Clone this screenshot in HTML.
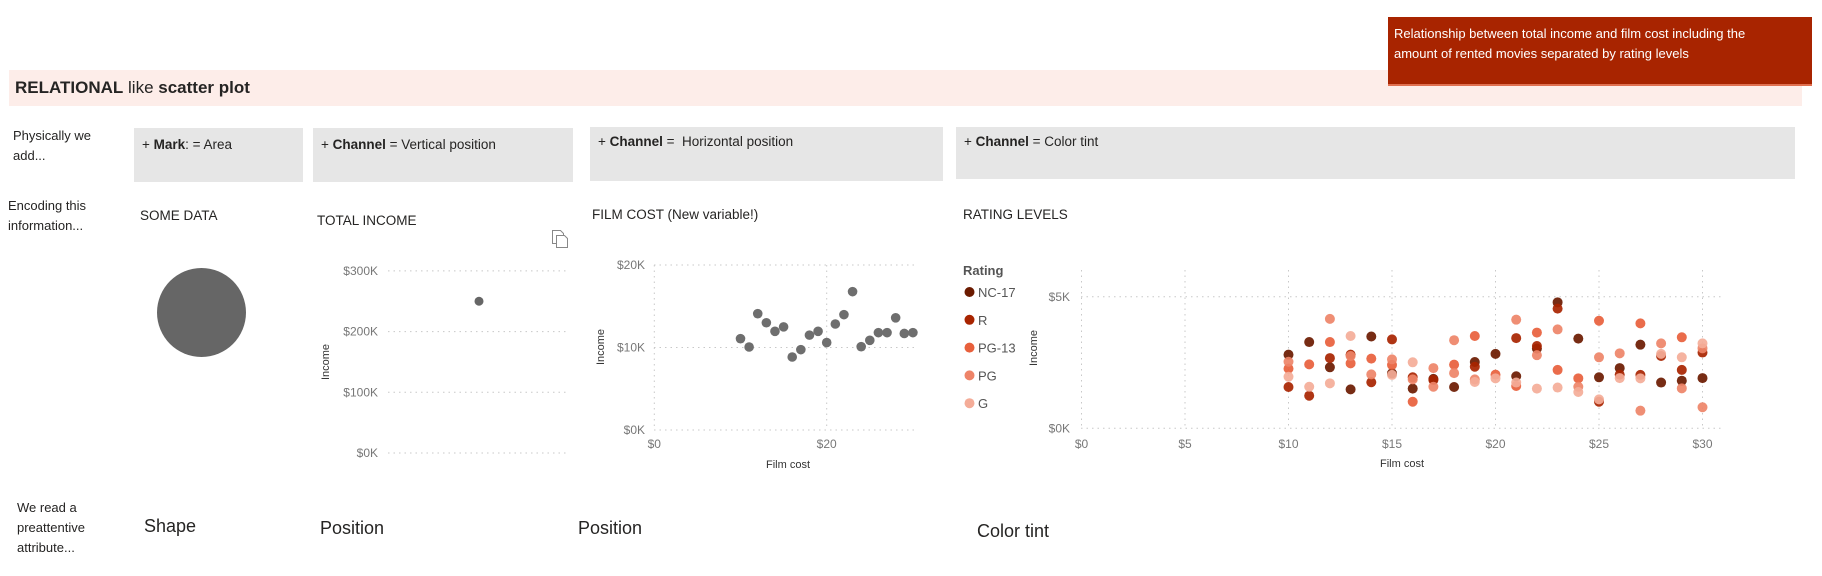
<!DOCTYPE html>
<html><head><meta charset="utf-8">
<style>
html,body{margin:0;padding:0;background:#fff;}
body{width:1822px;height:576px;position:relative;overflow:hidden;font-family:"Liberation Sans",sans-serif;color:#252423;}
.abs{position:absolute;}
.box{position:absolute;background:#e6e6e6;font-size:13.5px;color:#252423;box-sizing:border-box;padding:9px 0 0 8px;}
.rowlab{position:absolute;font-size:13px;line-height:20px;color:#252423;}
.title{position:absolute;font-size:13.5px;color:#252423;}
.big{position:absolute;font-size:18px;color:#252423;}
svg text{font-family:"Liberation Sans",sans-serif;}
</style></head><body>
<div class="abs" style="left:9px;top:70px;width:1793px;height:36px;background:#fdede9;"></div>
<div class="abs" style="left:1388px;top:17px;width:424px;height:69px;background:#a82400;color:#fff;font-size:13px;line-height:20px;padding:7px 50px 0 6px;box-sizing:border-box;border-bottom:2px solid #e07050;">Relationship between total income and film cost including the amount of rented movies separated by rating levels</div>
<div class="abs" style="left:15px;top:78px;font-size:17px;"><b>RELATIONAL</b> like <b>scatter plot</b></div>

<div class="rowlab" style="left:13px;top:126px;">Physically we<br>add...</div>
<div class="rowlab" style="left:8px;top:196px;">Encoding this<br>information...</div>
<div class="rowlab" style="left:17px;top:498px;">We read a<br>preattentive<br>attribute...</div>

<div class="box" style="left:134px;top:128px;width:169px;height:54px;">+ <b>Mark</b>: = Area</div>
<div class="box" style="left:313px;top:128px;width:260px;height:54px;">+ <b>Channel</b> = Vertical position</div>
<div class="box" style="left:590px;top:127px;width:353px;height:54px;padding-top:7px;">+ <b>Channel</b> =&nbsp; Horizontal position</div>
<div class="box" style="left:956px;top:127px;width:839px;height:52px;padding-top:7px;">+ <b>Channel</b> = Color tint</div>

<div class="title" style="left:140px;top:208px;">SOME DATA</div>
<div class="title" style="left:317px;top:213px;">TOTAL INCOME</div>
<div class="title" style="left:592px;top:207px;">FILM COST (New variable!)</div>
<div class="title" style="left:963px;top:207px;">RATING LEVELS</div>

<div class="big" style="left:144px;top:516px;">Shape</div>
<div class="big" style="left:320px;top:518px;">Position</div>
<div class="big" style="left:578px;top:518px;">Position</div>
<div class="big" style="left:977px;top:521px;">Color tint</div>

<svg id="charts" class="abs" style="left:0;top:0" width="1822" height="576">
  <circle cx="201.5" cy="312.5" r="44.5" fill="#666"/>
  <g fill="none" stroke="#888" stroke-width="1">
    <path d="M552.5,230.5 h8 l3,3 v10 h-11 z"/><path d="M556.5,235.5 h8 l3,3 v9 h-11 z" fill="#fff"/>
  </g>
</svg>
<script>
// Total income chart
const tiTicks=[0,100,200,300];
const tiTickLabels=["$0K","$100K","$200K","$300K"];
const tiValue=[250];
// Film cost chart
const fcCost=[10,11,12,13,14,15,16,17,18,19,20,21,22,23,24,25,26,27,28,29,30];
const fcIncome=[11.07,10.06,14.1,13.0,11.96,12.5,8.85,9.74,11.5,11.96,10.6,12.85,13.98,16.77,10.1,10.87,11.8,11.8,13.6,11.7,11.8];
const fcYTicks=[0,10,20];
const fcYLabels=["$0K","$10K","$20K"];
const fcXTicks=[0,20];
const fcXLabels=["$0","$20"];
// Rating chart
const ratingNames=["NC-17","R","PG-13","PG","G"];
const ratingColors=["#6b1a00","#a82400","#e8603c","#ee8468","#f4ac98"];
const nc17Cost=[10,11,12,13,14,15,16,17,18,19,20,21,22,23,24,25,26,27,28,29,30];
const nc17Income=[2.80,3.28,2.32,1.48,3.49,2.09,1.51,1.88,1.57,2.52,2.83,1.98,3.03,4.79,3.41,1.94,2.29,3.18,1.74,1.81,1.91];
const rCost=[10,11,12,13,14,15,16,17,19,21,22,23,25,26,27,28,29,30];
const rIncome=[1.57,1.24,2.67,2.80,1.75,3.38,1.94,1.84,2.34,3.43,3.13,4.55,1.01,2.04,2.03,2.75,2.22,2.88];
const pg13Cost=[10,11,12,13,14,15,16,18,19,20,21,22,23,24,25,27,29];
const pg13Income=[2.27,2.43,3.28,2.47,2.65,2.41,1.01,2.42,3.51,2.04,1.61,3.64,2.22,1.90,4.09,3.99,3.46];
const pgCost=[10,12,13,14,15,16,17,17,18,18,19,21,22,23,24,25,26,27,28,29,30,30];
const pgIncome=[2.53,4.16,2.75,2.05,2.62,1.86,2.29,1.58,3.35,2.10,1.86,4.13,2.78,3.76,1.58,2.70,2.85,0.67,3.23,1.52,3.04,0.80];
const gCost=[10,11,12,13,15,16,19,20,21,22,23,24,25,26,27,28,29,30];
const gIncome=[1.96,1.58,1.71,3.51,2.03,2.51,1.76,1.90,1.74,1.51,1.55,1.38,1.10,1.91,1.90,2.83,2.70,3.23];
const rtYTicks=[0,5];
const rtYLabels=["$0K","$5K"];
const rtXTicks=[0,5,10,15,20,25,30];
const rtXLabels=["$0","$5","$10","$15","$20","$25","$30"];

const svg=document.getElementById('charts');
const NS="http://www.w3.org/2000/svg";
function mk(tag,attrs,parent){const e=document.createElementNS(NS,tag);for(const k in attrs)e.setAttribute(k,attrs[k]);(parent||svg).appendChild(e);return e;}
function txt(x,y,s,anchor,size,fill,parent){const t=mk('text',{x:x,y:y,'text-anchor':anchor,'font-size':size,fill:fill},parent);t.textContent=s;return t;}
const grid={stroke:"#c8c8c8","stroke-width":1,"stroke-dasharray":"1.5,4"};

// Total income
(function(){
  const g=mk('g',{});
  
  
  const y=v=>453-(v/100)*60.7;
  const x0=388,x1=568;
  tiTicks.forEach((t,i)=>{
    const l=mk('line',Object.assign({x1:x0,x2:x1,y1:y(t),y2:y(t)},grid),g);
    
    
    const tl=txt(378,y(t)+4,tiTickLabels[i],'end',12,'#777',g);
    
    
  });
  const yl=txt(0,0,'Income','middle',11,'#333',g);
  yl.setAttribute('transform','translate(329,362) rotate(-90)');
  
  
  tiValue.forEach(v=>{
    const c=mk('circle',{cx:479,cy:y(v),r:4.5,fill:'#666'},g);
    
    
  });
})();

// Film cost
(function(){
  const g=mk('g',{});
  
  
  const x=v=>654.3+v*8.62, y=v=>430-v*8.25;
  fcYTicks.forEach((t,i)=>{
    const l=mk('line',Object.assign({x1:654,x2:917,y1:y(t),y2:y(t)},grid),g);
    
    
    const tl=txt(645,y(t)+4,fcYLabels[i],'end',12,'#777',g);
    
    
  });
  fcXTicks.forEach((t,i)=>{
    const l=mk('line',Object.assign({x1:x(t),x2:x(t),y1:265,y2:430},grid),g);
    
    
    const tl=txt(x(t),448,fcXLabels[i],'middle',12,'#777',g);
    
    
  });
  const xl=txt(788,468,'Film cost','middle',11,'#333',g);
  
  
  const yl=txt(0,0,'Income','middle',11,'#333',g);
  yl.setAttribute('transform','translate(604,347) rotate(-90)');
  
  
  fcCost.forEach((c,i)=>{
    const p=mk('circle',{cx:x(c),cy:y(fcIncome[i]),r:4.8,fill:'#6e6e6e'},g);
    
    
  });
})();

// Rating chart
(function(){
  const g=mk('g',{});
  
  
  const x=v=>1081.5+v*20.7, y=v=>428.3-v*26.3;
  rtYTicks.forEach((t,i)=>{
    const l=mk('line',Object.assign({x1:1081,x2:1722,y1:y(t),y2:y(t)},grid),g);
    
    
    const tl=txt(1070,y(t)+4,rtYLabels[i],'end',12,'#777',g);
    
    
  });
  rtXTicks.forEach((t,i)=>{
    const l=mk('line',Object.assign({x1:x(t),x2:x(t),y1:270,y2:428},grid),g);
    
    
    const tl=txt(x(t),448,rtXLabels[i],'middle',12,'#777',g);
    
    
  });
  const xl=txt(1402,467,'Film cost','middle',11,'#333',g);
  
  
  const yl=txt(0,0,'Income','middle',11,'#333',g);
  yl.setAttribute('transform','translate(1037,348) rotate(-90)');
  
  
  const lt=txt(963,275,'Rating','start',13,'#555',g);
  lt.setAttribute('font-weight','bold');
  
  
  ratingNames.forEach((n,i)=>{
    const c=mk('circle',{cx:969.5,cy:292+i*27.8,r:5,fill:ratingColors[i]},g);
    
    
    const t=txt(978,297+i*27.8,n,'start',13,'#555',g);
    
    
  });
  const series=[[nc17Cost,nc17Income],[rCost,rIncome],[pg13Cost,pg13Income],[pgCost,pgIncome],[gCost,gIncome]];
  series.forEach((s,si)=>{
    s[0].forEach((c,i)=>{
      const p=mk('circle',{cx:x(c),cy:y(s[1][i]),r:5,fill:ratingColors[si],'fill-opacity':0.92},g);
      
      
    });
  });
})();
</script>
</body></html>
